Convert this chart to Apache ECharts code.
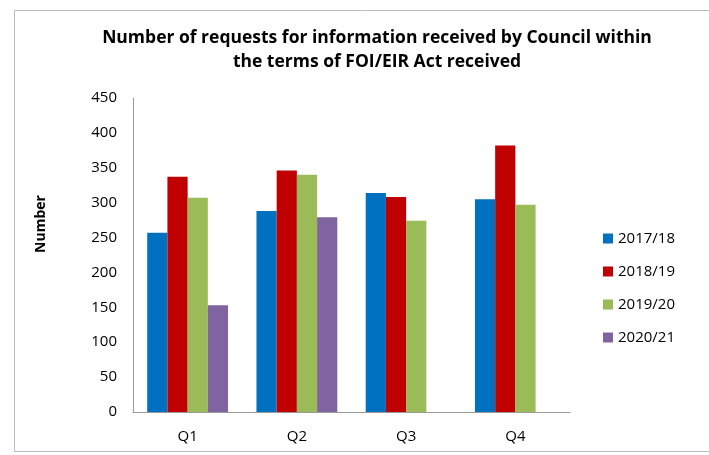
<!DOCTYPE html>
<html>
<head>
<meta charset="utf-8">
<script src="https://cdn.jsdelivr.net/npm/echarts@6/dist/echarts.min.js"></script>
<style>
  html, body { margin: 0; padding: 0; background: #fff; }
  #chart { width: 709px; height: 455px; }
</style>
</head>
<body>
<div id="chart"></div>
<script>
var quarters = ['Q1', 'Q2', 'Q3', 'Q4'];
var years = ['2017/18', '2018/19', '2019/20', '2020/21'];
var v2017 = [257, 288, 314, 305];
var v2018 = [337, 346, 308, 382];
var v2019 = [307, 340, 274, 297];
var v2020 = [153, 279, null, null];
var colors = ['#0070C0', '#C00000', '#9BBB59', '#8064A2'];

var chart = echarts.init(document.getElementById('chart'));

var seriesData = [v2017, v2018, v2019, v2020];
var series = years.map(function (name, i) {
  return {
    name: name,
    type: 'bar',
    data: seriesData[i],
    barGap: '0%',
    barCategoryGap: '26%',
    itemStyle: { color: colors[i] }
  };
});

var option = {
  animation: false,
  color: colors,
  textStyle: { fontFamily: 'Open Sans' },
  title: {
    text: 'Number of requests for information received by Council within\nthe terms of FOI/EIR Act received',
    left: 372,
    textAlign: 'center',
    top: 21,
    textStyle: {
      fontFamily: 'Open Sans',
      fontSize: 17.5,
      fontWeight: 'bold',
      color: '#000',
      lineHeight: 24
    }
  },
  legend: {
    orient: 'vertical',
    left: 598,
    top: 226,
    itemWidth: 10,
    itemHeight: 10,
    itemGap: 18,
    icon: 'rect',
    textStyle: { fontSize: 15, color: '#000', fontFamily: 'Open Sans' },
    data: years
  },
  grid: { left: 133, right: 139, top: 98, bottom: 43 },
  xAxis: {
    type: 'category',
    data: quarters,
    axisLine: { lineStyle: { color: '#9a9a9a', width: 1 } },
    axisTick: { show: false },
    axisLabel: { fontSize: 15, color: '#000', margin: 17 }
  },
  yAxis: {
    type: 'value',
    min: 0,
    max: 450,
    interval: 50,
    axisLine: { show: true, lineStyle: { color: '#9a9a9a', width: 1 } },
    axisTick: { show: false },
    splitLine: { show: false },
    axisLabel: { fontSize: 15, color: '#000', margin: 16 }
  },
  graphic: [{
    type: 'rect',
    shape: { x: 14.5, y: 10.5, width: 700, height: 441 },
    style: { fill: 'none', stroke: '#bdbdbd', lineWidth: 1 },
    silent: true
  }, {
    type: 'text',
    x: 41,
    y: 224,
    rotation: Math.PI / 2,
    style: {
      text: 'Number',
      fontFamily: 'Open Sans',
      fontSize: 14,
      fontWeight: 'bold',
      fill: '#000',
      align: 'center',
      verticalAlign: 'middle'
    },
    silent: true
  }],
  series: series
};

chart.setOption(option);
</script>
</body>
</html>
